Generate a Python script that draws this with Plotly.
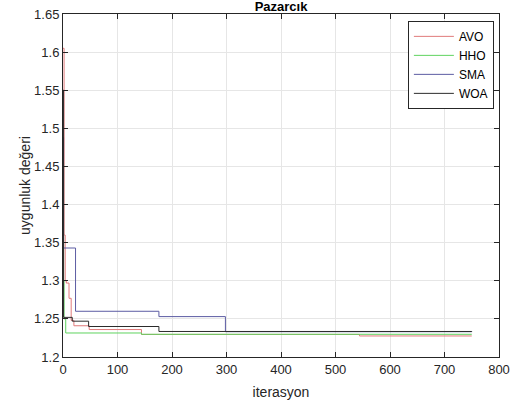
import plotly.graph_objects as go

# Step data (iteration where value changes, fitness value)
avo_x = [0, 2, 4, 6, 11, 15, 20, 48, 144, 544, 750]
avo_y = [1.605, 1.36, 1.30, 1.297, 1.277, 1.248, 1.241, 1.236, 1.2296, 1.2276, 1.2276]

hho_x = [0, 1, 2, 5, 144, 750]
hho_y = [1.455, 1.30, 1.25, 1.2315, 1.2298, 1.2298]

sma_x = [0, 1, 23, 176, 298, 750]
sma_y = [1.488, 1.343, 1.26, 1.253, 1.2332, 1.2332]

woa_x = [0, 1, 17, 47, 176, 750]
woa_y = [1.55, 1.252, 1.247, 1.240, 1.2335, 1.2330]

series = [
    ("AVO", avo_x, avo_y, "#e07a7a"),
    ("HHO", hho_x, hho_y, "#5fd35f"),
    ("SMA", sma_x, sma_y, "#5c5ca3"),
    ("WOA", woa_x, woa_y, "#2b2b2b"),
]

fig = go.Figure()
for name, xs, ys, col in series:
    fig.add_trace(go.Scatter(x=xs, y=ys, mode="lines", name=name,
                             line=dict(color=col, width=1, shape="hv")))

font = "Liberation Sans, Arial, sans-serif"
axis_common = dict(
    showline=True, linecolor="#262626", linewidth=1, mirror="allticks",
    ticks="inside", ticklen=5, tickcolor="#262626",
    showgrid=True, gridcolor="#e6e6e6", gridwidth=1, zeroline=False,
    tickfont=dict(family=font, size=13, color="#262626"),
    automargin=False,
)

fig.update_layout(
    width=518, height=405,
    margin=dict(l=63, r=19, t=14, b=48),
    paper_bgcolor="white", plot_bgcolor="white",
    title=dict(text="<b>Pazarcık</b>", x=0.5425, xanchor="center",
               y=0.985, yanchor="middle", yref="container",
               font=dict(family=font, size=13, color="black")),
    xaxis=dict(range=[0, 800], dtick=100,
               title=dict(text="iterasyon", standoff=11,
                          font=dict(family=font, size=14, color="#262626")),
               **axis_common),
    yaxis=dict(range=[1.2, 1.65], tickvals=[1.2, 1.25, 1.3, 1.35, 1.4, 1.45, 1.5, 1.55, 1.6, 1.65],
               ticktext=["1.2", "1.25", "1.3", "1.35", "1.4", "1.45", "1.5", "1.55", "1.6", "1.65"],
               title=dict(text="uygunluk değeri", standoff=0,
                          font=dict(family=font, size=14, color="#262626")),
               **axis_common),
    legend=dict(x=0.791, y=0.98, xanchor="left", yanchor="top",
                bgcolor="white", bordercolor="#262626", borderwidth=1,
                font=dict(family=font, size=12, color="black"),
                tracegroupgap=0, itemwidth=40),
    showlegend=True,
)

fig.write_html("out.html")
